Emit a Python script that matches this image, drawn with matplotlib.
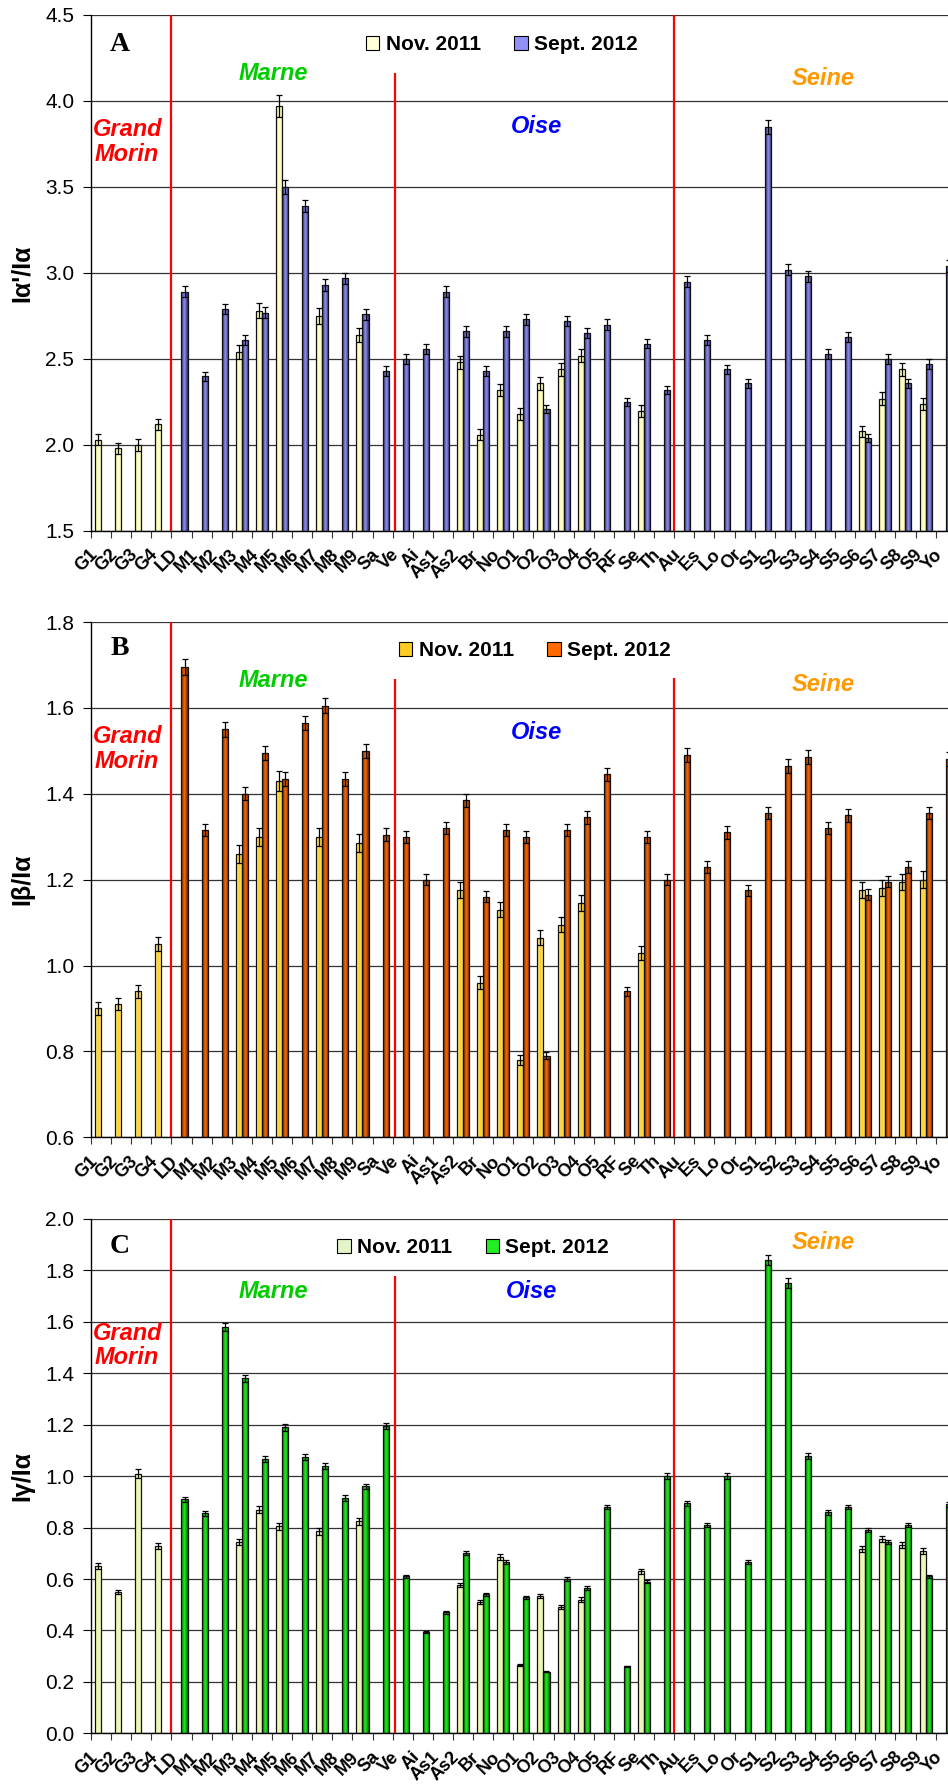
import numpy as np
import matplotlib
matplotlib.use("Agg")
import matplotlib.pyplot as plt
from matplotlib.colors import to_rgb
from matplotlib.patches import Patch

plt.rcParams['font.family'] = ['Liberation Sans', 'DejaVu Sans']

nan = np.nan

# sampling sites (x axis)
sites = ['G1', 'G2', 'G3', 'G4', 'LD', 'M1', 'M2', 'M3', 'M4', 'M5', 'M6', 'M7',
         'M8', 'M9', 'Sa', 'Ve', 'Ai', 'As1', 'As2', 'Br', 'No', 'O1', 'O2', 'O3',
         'O4', 'O5', 'RF', 'Se', 'Th', 'Au', 'Es', 'Lo', 'Or', 'S1', 'S2', 'S3',
         'S4', 'S5', 'S6', 'S7', 'S8', 'S9', 'Yo']
series_names = ['Nov. 2011', 'Sept. 2012']

# Panel A : Ia'/Ia
a_nov = [2.03, 1.98, 2.00, 2.12, nan, nan, nan, 2.54, 2.78, 3.97, nan, 2.75,
         nan, 2.64, nan, nan, nan, nan, 2.48, 2.06, 2.32, 2.18, 2.36, 2.44,
         2.52, nan, nan, 2.20, nan, nan, nan, nan, nan, nan, nan, nan,
         nan, nan, 2.08, 2.27, 2.44, 2.24, nan]
a_sep = [nan, nan, nan, nan, 2.89, 2.40, 2.79, 2.61, 2.77, 3.50, 3.39, 2.93,
         2.97, 2.76, 2.43, 2.50, 2.56, 2.89, 2.66, 2.43, 2.66, 2.73, 2.21, 2.72,
         2.65, 2.70, 2.25, 2.59, 2.32, 2.95, 2.61, 2.44, 2.36, 3.85, 3.02, 2.98,
         2.53, 2.63, 2.04, 2.50, 2.36, 2.47, 3.04]

# Panel B : Ib/Ia
b_nov = [0.90, 0.91, 0.94, 1.05, nan, nan, nan, 1.26, 1.30, 1.43, nan, 1.30,
         nan, 1.285, nan, nan, nan, nan, 1.175, 0.96, 1.13, 0.78, 1.065, 1.095,
         1.145, nan, nan, 1.03, nan, nan, nan, nan, nan, nan, nan, nan,
         nan, nan, 1.175, 1.18, 1.195, 1.20, nan]
b_sep = [nan, nan, nan, nan, 1.695, 1.315, 1.55, 1.40, 1.495, 1.435, 1.565, 1.605,
         1.435, 1.50, 1.305, 1.30, 1.20, 1.32, 1.385, 1.16, 1.315, 1.30, 0.79, 1.315,
         1.345, 1.445, 0.94, 1.30, 1.20, 1.49, 1.23, 1.31, 1.175, 1.355, 1.465, 1.485,
         1.32, 1.35, 1.165, 1.195, 1.23, 1.355, 1.48]

# Panel C : Ig/Ia
c_nov = [0.65, 0.55, 1.01, 0.73, nan, nan, nan, 0.745, 0.87, 0.805, nan, 0.785,
         nan, 0.825, nan, nan, nan, nan, 0.577, 0.51, 0.685, 0.265, 0.533, 0.49,
         0.52, nan, nan, 0.63, nan, nan, nan, nan, nan, nan, nan, nan,
         nan, nan, 0.717, 0.755, 0.733, 0.71, nan]
c_sep = [nan, nan, nan, nan, 0.91, 0.855, 1.58, 1.38, 1.065, 1.19, 1.075, 1.04,
         0.915, 0.96, 1.195, 0.61, 0.395, 0.47, 0.70, 0.54, 0.665, 0.53, 0.24, 0.60,
         0.565, 0.88, 0.26, 0.59, 1.00, 0.895, 0.81, 1.00, 0.665, 1.84, 1.75, 1.08,
         0.86, 0.88, 0.79, 0.745, 0.81, 0.61, 0.89]

# relative error bars (percent of value)
err_nov = 0.016
err_sep = 0.011

# basin separators
sep_x = [3.5, 14.6, 28.5]

W, H = 948, 1784
CAT_PX = 20.11
BAR_W = 0.3

fig = plt.figure(figsize=(W / 100, H / 100), dpi=100)


def make_axes(top_px, bottom_px):
    return fig.add_axes([91 / W, 1 - bottom_px / H, 43 * CAT_PX / W,
                         (bottom_px - top_px) / H])


def gradient_bars(ax, x, vals, edge, center, bottom, frac):
    x = np.asarray(x, float)
    vals = np.asarray(vals, float)
    ok = ~np.isnan(vals)
    bars = ax.bar(x[ok], vals[ok] - bottom, width=BAR_W, bottom=bottom,
                  facecolor='none', edgecolor='#111111', linewidth=0.9, zorder=3)
    u = np.linspace(0, 1, 32)
    t = 1 - np.abs(2 * u - 1)
    e = np.array(to_rgb(edge))
    c = np.array(to_rgb(center))
    img = (e[None, :] + (c - e)[None, :] * t[:, None])[None, :, :]
    for b in bars:
        x0, y0 = b.get_x(), b.get_y()
        im = ax.imshow(img, extent=[x0, x0 + b.get_width(), y0, y0 + b.get_height()],
                       aspect='auto', interpolation='bilinear', zorder=2.5)
        im.set_clip_path(b)
    ax.errorbar(x[ok], vals[ok], yerr=vals[ok] * frac, fmt='none', ecolor='black',
                elinewidth=0.9, capsize=2.5, capthick=0.9, zorder=4)


def draw_panel(ax, nov, sep, cols, ylim, yticks, ylabel, letter, line_tops,
               txt_y, oise_x, leg_xy):
    x = np.arange(len(sites))
    gradient_bars(ax, x - 0.15, nov, cols[0], cols[1], ylim[0], err_nov)
    gradient_bars(ax, x + 0.15, sep, cols[2], cols[3], ylim[0], err_sep)

    ax.vlines(sep_x, ylim[0], line_tops, colors='red', linewidth=1.6, zorder=2)

    ax.set_xlim(-0.5, 42.5)
    ax.set_ylim(*ylim)
    ax.set_yticks(yticks)
    ax.set_yticklabels([f'{v:.1f}' for v in yticks])
    ax.set_xticks(x)
    ax.set_xticklabels(sites, rotation=45, ha='right', fontsize=13, fontweight='bold')
    ax.set_xticks(np.arange(-0.5, 43, 1), minor=True)
    ax.tick_params(axis='x', which='major', length=0, pad=11)
    ax.tick_params(axis='x', which='minor', length=5, width=0.8, color='#333333')
    ax.tick_params(axis='y', labelsize=15, length=6, width=0.8, pad=6)

    ax.yaxis.grid(True, color='#333333', linewidth=0.9)
    ax.set_axisbelow(True)
    for s in ['top', 'right']:
        ax.spines[s].set_visible(False)
    ax.spines['left'].set_linewidth(1.0)
    ax.spines['bottom'].set_linewidth(1.0)

    ax.set_ylabel(ylabel, fontsize=18, fontweight='bold', labelpad=8)

    ax.text(0.92, txt_y[0], letter, fontsize=20, fontweight='bold',
            family='Liberation Serif', ha='center', va='center')
    ax.text(1.3, txt_y[1], 'Grand\nMorin', color='red', fontsize=17,
            fontweight='bold', style='italic', ha='center', va='center',
            linespacing=1.1)
    ax.text(8.55, txt_y[2], 'Marne', color='#00CC00', fontsize=17,
            fontweight='bold', style='italic', ha='center', va='center')
    ax.text(oise_x, txt_y[3], 'Oise', color='blue', fontsize=17,
            fontweight='bold', style='italic', ha='center', va='center')
    ax.text(35.9, txt_y[4], 'Seine', color='#FF9900', fontsize=17,
            fontweight='bold', style='italic', ha='center', va='center')

    handles = [Patch(facecolor=cols[1], edgecolor='black', linewidth=0.8),
               Patch(facecolor=cols[3], edgecolor='black', linewidth=0.8)]
    ax.legend(handles, series_names, loc='center', bbox_to_anchor=leg_xy, ncol=2,
              frameon=False, prop={'size': 15, 'weight': 'bold'},
              handlelength=0.65, handleheight=0.65, handletextpad=0.3,
              columnspacing=1.6)


ax_a = make_axes(15, 531)
draw_panel(ax_a, a_nov, a_sep, ['#F8F890', '#FFFFD8', '#2A2A58', '#9090F8'],
           (1.5, 4.5), np.arange(1.5, 4.51, 0.5), "Iα'/Iα", 'A',
           [4.5, 4.16, 4.5], [4.33, 3.76, 4.16, 3.85, 4.13], 21.65, (0.475, 0.942))

ax_b = make_axes(622, 1137.3)
draw_panel(ax_b, b_nov, b_sep, ['#FFF59A', '#FFCC22', '#5E2400', '#FF6A00'],
           (0.6, 1.8), np.arange(0.6, 1.81, 0.2), 'Iβ/Iα', 'B',
           [1.8, 1.667, 1.67], [1.738, 1.504, 1.663, 1.543, 1.654], 21.65, (0.513, 0.944))

ax_c = make_axes(1219, 1733.3)
draw_panel(ax_c, c_nov, c_sep, ['#FFFF99', '#E4F6C8', '#006A00', '#22EE22'],
           (0.0, 2.0), np.arange(0.0, 2.01, 0.2), 'Iγ/Iα', 'C',
           [2.0, 1.78, 2.0], [1.893, 1.508, 1.718, 1.718, 1.909], 21.4, (0.442, 0.944))

fig.savefig('out.png', dpi=100)
